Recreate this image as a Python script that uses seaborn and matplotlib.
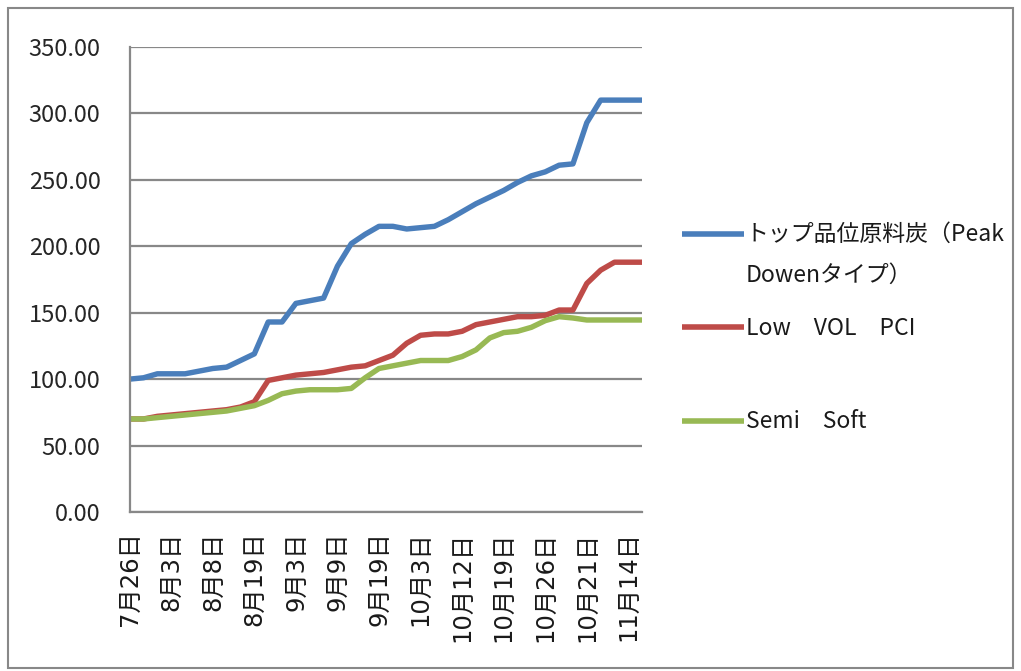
import matplotlib
matplotlib.use("Agg")
import matplotlib.pyplot as plt
import seaborn as sns
import pandas as pd
import numpy as np
from matplotlib.patches import Rectangle

# ---- data ----
tick_labels = ["7月26日", "8月3日", "8月8日", "8月19日", "9月3日", "9月9日", "9月19日",
               "10月3日", "10月12日", "10月19日", "10月26日", "10月21日", "11月14日"]

series_names = ["トップ品位原料炭（Peak\nDowenタイプ）", "Low\u3000VOL\u3000PCI", "Semi\u3000Soft"]

peak_downen = [100, 101, 104, 104, 104, 106, 108, 109, 114, 119,
               143, 143, 157, 159, 161, 185, 202, 209, 215, 215,
               213, 214, 215, 220, 226, 232, 237, 242, 248, 253,
               256, 261, 262, 293, 310, 310, 310, 310]
low_vol_pci = [70, 70, 72, 73, 74, 75, 76, 77, 79, 83,
               99, 101, 103, 104, 105, 107, 109, 110, 114, 118,
               127, 133, 134, 134, 136, 141, 143, 145, 147, 147,
               148, 152, 152, 172, 182, 188, 188, 188]
semi_soft = [70, 70, 71, 72, 73, 74, 75, 76, 78, 80,
             84, 89, 91, 92, 92, 92, 93, 101, 108, 110,
             112, 114, 114, 114, 117, 122, 131, 135, 136, 139,
             144, 147, 146, 144.5, 144.5, 144.5, 144.5, 144.5]

colors = ["#4A7EBB", "#BE4B48", "#98B954"]

# ---- build table ----
n = len(peak_downen)
idx = np.arange(n)
df = pd.concat([
    pd.DataFrame({"i": idx, "value": peak_downen, "series": series_names[0]}),
    pd.DataFrame({"i": idx, "value": low_vol_pci, "series": series_names[1]}),
    pd.DataFrame({"i": idx, "value": semi_soft, "series": series_names[2]}),
], ignore_index=True)

sns.set_theme(style="white")
plt.rcParams["font.family"] = ["Noto Sans CJK JP", "DejaVu Sans"]

fig = plt.figure(figsize=(10.21, 6.71), dpi=100)
ax = fig.add_axes([0.127, 0.237, 0.502, 0.693])

sns.lineplot(data=df, x="i", y="value", hue="series", hue_order=series_names,
             palette=colors, linewidth=3.9, ax=ax, legend=True,
             solid_joinstyle="round", solid_capstyle="butt")

ax.set_xlim(0, n - 1)
ax.set_ylim(0, 350)
yt = np.arange(0, 351, 50)
ax.set_yticks(yt)
ax.set_yticklabels([f"{v:.2f}" for v in yt], fontsize=17, color="#262626")
ax.set_xticks(idx[::3])
ax.set_xticklabels(tick_labels, rotation=90, fontsize=17.5, color="#1a1a1a",
                   ha="center", va="top", family=["DejaVu Sans", "Noto Sans CJK JP"])
ax.tick_params(axis="y", length=0, pad=21)
ax.tick_params(axis="x", length=0, pad=14)
ax.set_xlabel("")
ax.set_ylabel("")

ax.grid(axis="y", color="#888888", linewidth=1.6)
ax.set_axisbelow(True)
for s in ["top", "right"]:
    ax.spines[s].set_visible(False)
for s in ["left", "bottom"]:
    ax.spines[s].set_color("#888888")
    ax.spines[s].set_linewidth(1.6)

handles, _ = ax.get_legend_handles_labels()
ax.get_legend().remove()
leg_labels = [series_names[0], series_names[1] + "\n", series_names[2] + "\n"]
leg = fig.legend(handles, leg_labels, loc="upper left", bbox_to_anchor=(0.668, 0.668),
                 frameon=False, fontsize=16.5, handlelength=2.7, handletextpad=0.08,
                 labelspacing=1.3, borderpad=0, borderaxespad=0)
for t in leg.get_texts():
    t.set_linespacing(2.0)
    t.set_color("#1a1a1a")
for h in leg.legend_handles:
    h.set_linewidth(4)
    y = np.asarray(h.get_ydata(), dtype=float)
    h.set_ydata(y + 16)

# outer chart border
fig.patches.append(Rectangle((0.008, 0.004), 0.984, 0.984, transform=fig.transFigure,
                             fill=False, edgecolor="#888888", linewidth=1.5))

fig.savefig("out.png", dpi=100, facecolor="white")
